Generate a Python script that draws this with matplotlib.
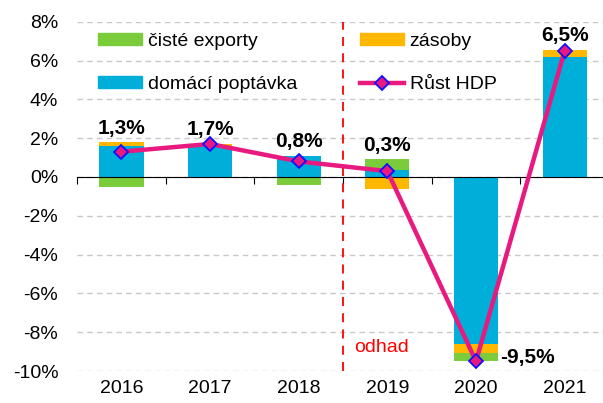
import numpy as np
import matplotlib
matplotlib.use("Agg")
from matplotlib import pyplot as plt
from matplotlib.lines import Line2D
from matplotlib.patches import Patch

plt.rcParams["font.family"] = ["Liberation Sans", "DejaVu Sans"]

years = ["2016", "2017", "2018", "2019", "2020", "2021"]
domestic = [1.6, 1.6, 1.1, 0.35, -8.6, 6.2]
stocks = [0.18, 0.1, 0.0, -0.6, -0.47, 0.35]
net_exports = [-0.5, 0.0, -0.4, 0.55, -0.4, 0.0]
gdp = [1.3, 1.7, 0.8, 0.3, -9.5, 6.5]
gdp_labels = ["1,3%", "1,7%", "0,8%", "0,3%", "-9,5%", "6,5%"]

c_green = "#7ACC3A"
c_orange = "#FFB800"
c_blue = "#00AEDA"
c_line = "#E8197F"

fig = plt.figure(figsize=(6.03, 4.03), dpi=100)
ax = fig.add_axes([77 / 603, 32 / 403, 532 / 603, 349.3 / 403])

x = np.arange(len(years))
w = 0.5
pos_base = np.zeros(len(years))
neg_base = np.zeros(len(years))
for vals, col in [(domestic, c_blue), (stocks, c_orange), (net_exports, c_green)]:
    vals = np.array(vals)
    base = np.where(vals >= 0, pos_base, neg_base)
    ax.bar(x, vals, w, bottom=base, color=col, zorder=2)
    pos_base += np.where(vals >= 0, vals, 0)
    neg_base += np.where(vals < 0, vals, 0)

ax.plot(x, gdp, color=c_line, lw=3.2, marker="D", ms=7, mfc=c_line,
        mec="#1010FF", mew=1.3, zorder=4)

for i, (v, lab) in enumerate(zip(gdp, gdp_labels)):
    if v < 0:
        ax.text(i + 0.27, v + 0.2, lab, ha="left", va="center",
                fontsize=15, fontweight="bold", zorder=5)
    else:
        top = max(v, pos_base[i])
        ax.text(i, top + 0.25, lab, ha="center", va="bottom",
                fontsize=15, fontweight="bold", zorder=5)

ax.set_xlim(-0.5, len(years) - 0.5)
ax.set_ylim(-10, 8)
ax.set_yticks(np.arange(-10, 9, 2))
ax.set_yticklabels([f"{v}%" for v in range(-10, 9, 2)], fontsize=14)
ax.tick_params(axis="y", length=0, pad=13.5)
ax.yaxis.grid(True, color="#C8C8C8", ls=(0, (4, 3)), lw=1)
ax.set_axisbelow(True)

for s in ["top", "right", "left"]:
    ax.spines[s].set_visible(False)
ax.spines["bottom"].set_position(("data", 0))
ax.spines["bottom"].set_color("black")
ax.spines["bottom"].set_zorder(3)
ax.set_xticks(np.arange(-0.5, len(years), 1))
ax.set_xticklabels([])
ax.tick_params(axis="x", length=5, direction="out", color="black")
for i, yr in enumerate(years):
    ax.text(i, -0.05, yr, ha="center", va="center", fontsize=14,
            transform=ax.get_xaxis_transform())

ax.axvline(2.5, color="#FF0000", ls=(0, (5, 4)), lw=1.3, zorder=3)
ax.text(2.62, -8.8, "odhad", color="#FF0000", fontsize=14, va="center")

handles = [Patch(color=c_green), Patch(color=c_blue), Patch(color=c_orange),
           Line2D([], [], color=c_line, lw=3.2, marker="D", ms=7,
                  mfc=c_line, mec="#1010FF", mew=1.3)]
labels = ["čisté exporty", "domácí poptávka", "zásoby", "Růst HDP"]
ax.legend(handles, labels, ncol=2, frameon=False, fontsize=14,
          loc="upper left", bbox_to_anchor=(0.039, 0.968),
          borderaxespad=0, borderpad=0,
          handlelength=2.3, handleheight=0.55, columnspacing=3.2,
          labelspacing=1.35, handletextpad=0.28)

fig.savefig("out.png", dpi=100)
